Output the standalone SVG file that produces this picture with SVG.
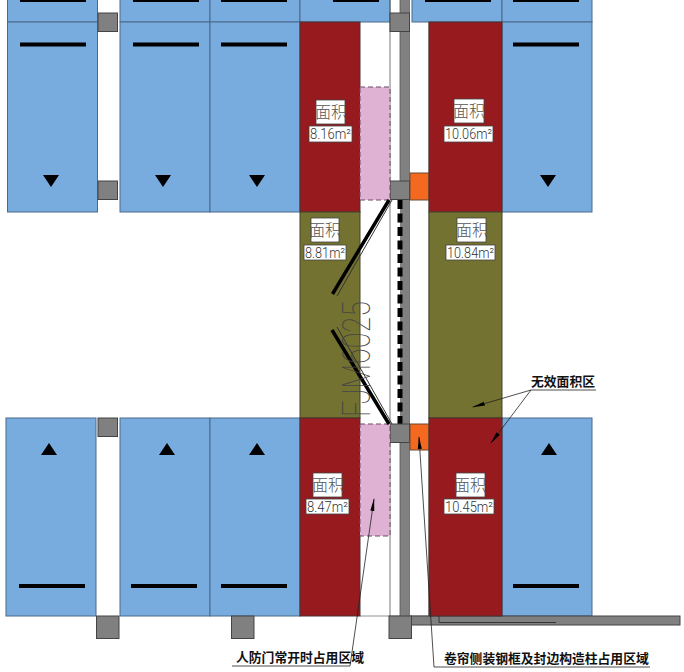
<svg xmlns="http://www.w3.org/2000/svg" width="684" height="672" viewBox="0 0 684 672">
<style>
.b{fill:#78acdf;stroke:#4a6a8a;stroke-width:1}
.r{fill:#971a1e;stroke:#4a3030;stroke-width:1}
.o{fill:#737230;stroke:#45452a;stroke-width:1}
.g{fill:#808080;stroke:#444;stroke-width:1}
.p{fill:#dfb2d4;stroke:#6a4a60;stroke-width:1;stroke-dasharray:5 3}
.or{fill:#f4691f;stroke:#6a4a30;stroke-width:1}
.t{fill:#fff;stroke:#444;stroke-width:.8}
.bar{stroke:#000;stroke-width:4;fill:none}
.l{stroke:#222;stroke-width:.8;fill:none}
.lab{font-family:"Noto Sans CJK SC","Liberation Sans",sans-serif;font-size:16px;font-weight:300;fill:#555;text-anchor:middle}
.num{font-family:"Roboto","Liberation Sans",sans-serif;font-size:14.5px;font-weight:300;fill:#333;text-anchor:middle}
.note{font-family:"Noto Sans CJK SC",sans-serif;font-size:12.8px;font-weight:700;fill:#111}
</style>
<defs><marker id="a" markerWidth="13" markerHeight="6" refX="12" refY="3" orient="auto" markerUnits="userSpaceOnUse"><path d="M0 1 L13 3 L0 5Z" fill="#000"/></marker></defs>
<g id="stalls-top">
<rect class="b" x="7.500" y="-20" width="90" height="42"/><rect class="b" x="120" y="-20" width="90" height="42"/><rect class="b" x="210" y="-20" width="90" height="42"/><rect class="b" x="300" y="-20" width="90" height="42"/><rect class="b" x="412" y="-20" width="90" height="42"/><rect class="b" x="502" y="-20" width="90" height="42"/>
<rect class="b" x="7.500" y="22" width="90" height="190"/><rect class="b" x="120" y="22" width="90" height="190"/><rect class="b" x="210" y="22" width="90" height="190"/><rect class="b" x="502" y="22" width="90" height="190"/>
<path class="bar" d="M20 0H86M133 0H199M221 0H287M333 0H379M425 0H491M513 0H579M20 44.500H86M133 44.500H199M221 44.500H287M513 44.500H579"/>
<path d="M43 175h16l-8 12zM155 175h16l-8 12zM249 175h16l-8 12zM540 175h16l-8 12z"/>
</g>
<g id="stalls-bottom">
<rect class="b" x="6" y="418" width="90" height="198"/><rect class="b" x="120" y="418" width="90" height="198"/><rect class="b" x="210" y="418" width="90" height="198"/><rect class="b" x="502" y="418" width="90" height="198"/>
<path class="bar" d="M19 586H85M131 586H197M221 586H287M513 586H579"/>
<path d="M41 455h16l-8-12zM159 455h16l-8-12zM249 455h16l-8-12zM541 455h16l-8-12z"/>
</g>
<g id="structure">
<rect x="400" y="0" width="9" height="616" fill="#808080"/>
<path d="M390 0V616M400 0V200M400 424V616M409.500 0V616M429 22V616" stroke="#555" stroke-width=".8" fill="none"/>
<path d="M360 616H429" stroke="#777" stroke-width=".8"/>
<path d="M400 200V424" stroke="#000" stroke-width="5" stroke-dasharray="9 4.500" fill="none"/>
<rect class="g" x="411" y="616" width="269" height="9"/><path d="M439 616V622.500H556" class="l"/>
<rect class="g" x="98" y="13" width="19.500" height="18.500"/><rect class="g" x="98" y="181" width="19.500" height="18.500"/><rect class="g" x="98" y="418" width="19.500" height="18.500"/>
<rect class="g" x="96.500" y="616" width="22.500" height="22.500"/><rect class="g" x="231.500" y="616" width="22.500" height="22.500"/><rect class="g" x="389" y="616" width="22.500" height="22.500"/>
<rect class="g" x="390" y="13" width="19.500" height="18.500"/><rect class="g" x="390" y="181" width="19.500" height="18.500"/><rect class="g" x="390" y="424" width="19.500" height="18.500"/>
<rect class="or" x="410" y="173" width="19" height="27"/><rect class="or" x="410" y="424" width="19" height="26"/>
</g>
<g id="area-816"><rect class="r" x="300" y="22" width="60" height="190"/><rect class="t" x="316" y="100" width="29" height="24"/><text class="lab" x="331" y="118">面积</text><rect class="t" x="309" y="126" width="43" height="16"/><text class="num" x="330.500" y="139" textLength="41" lengthAdjust="spacingAndGlyphs">8.16m²</text></g>
<g id="area-1006"><rect class="r" x="429" y="22" width="73" height="190"/><rect class="t" x="454" y="99" width="30" height="24"/><text class="lab" x="469" y="117">面积</text><rect class="t" x="444" y="126" width="49" height="16"/><text class="num" x="468.500" y="139" textLength="47" lengthAdjust="spacingAndGlyphs">10.06m²</text></g>
<g id="area-881"><rect class="o" x="300" y="212" width="60" height="206"/><rect class="t" x="311" y="218" width="28" height="24"/><text class="lab" x="325" y="236">面积</text><rect class="t" x="304" y="245" width="42" height="15"/><text class="num" x="325" y="258" textLength="40" lengthAdjust="spacingAndGlyphs">8.81m²</text></g>
<g id="area-1084"><rect class="o" x="429" y="212" width="73" height="206"/><rect class="t" x="457" y="218" width="29" height="24"/><text class="lab" x="472" y="236">面积</text><rect class="t" x="446" y="245" width="49" height="15"/><text class="num" x="470.500" y="258" textLength="47" lengthAdjust="spacingAndGlyphs">10.84m²</text></g>
<g id="area-847"><rect class="r" x="300" y="418" width="60" height="198"/><rect class="t" x="313" y="473" width="29" height="24"/><text class="lab" x="328" y="491">面积</text><rect class="t" x="306" y="499" width="43" height="15"/><text class="num" x="327.500" y="512" textLength="41" lengthAdjust="spacingAndGlyphs">8.47m²</text></g>
<g id="area-1045"><rect class="r" x="429" y="418" width="73" height="198"/><rect class="t" x="456" y="473" width="29" height="24"/><text class="lab" x="470" y="491">面积</text><rect class="t" x="444" y="499" width="50" height="15"/><text class="num" x="469" y="512" textLength="48" lengthAdjust="spacingAndGlyphs">10.45m²</text></g>
<g id="pink">
<rect class="p" x="360" y="87" width="30" height="113"/><rect class="p" x="360" y="424" width="30" height="112"/>
</g>
<g id="door">
<path d="M332.500 294L389 200M332 330L389 424" stroke="#000" stroke-width="3.500" fill="none"/>
<path d="M337 296L392 200M337 327L392 424" stroke="#333" stroke-width="1" fill="none"/>
<text transform="translate(369.500 417) rotate(-90)" font-family="Roboto,Liberation Sans,sans-serif" font-weight="100" font-size="38" fill="#444" textLength="116" lengthAdjust="spacingAndGlyphs">FJM6025</text>
</g>
<g id="connectors">
<path class="l" d="M531 390L473 407" marker-end="url(#a)"/>
<path class="l" d="M531 390L491 443" marker-end="url(#a)"/>
<path class="l" d="M531 390H596"/>
<path class="l" d="M232 666H350L374 499" marker-end="url(#a)"/>
<path class="l" d="M650 667H434L419 437" marker-end="url(#a)"/>
</g>
<g id="notes">
<text class="note" x="531" y="386">无效面积区</text>
<text class="note" x="236" y="662">人防门常开时占用区域</text>
<text class="note" x="444" y="663">卷帘侧装钢框及封边构造柱占用区域</text>
</g>
</svg>
